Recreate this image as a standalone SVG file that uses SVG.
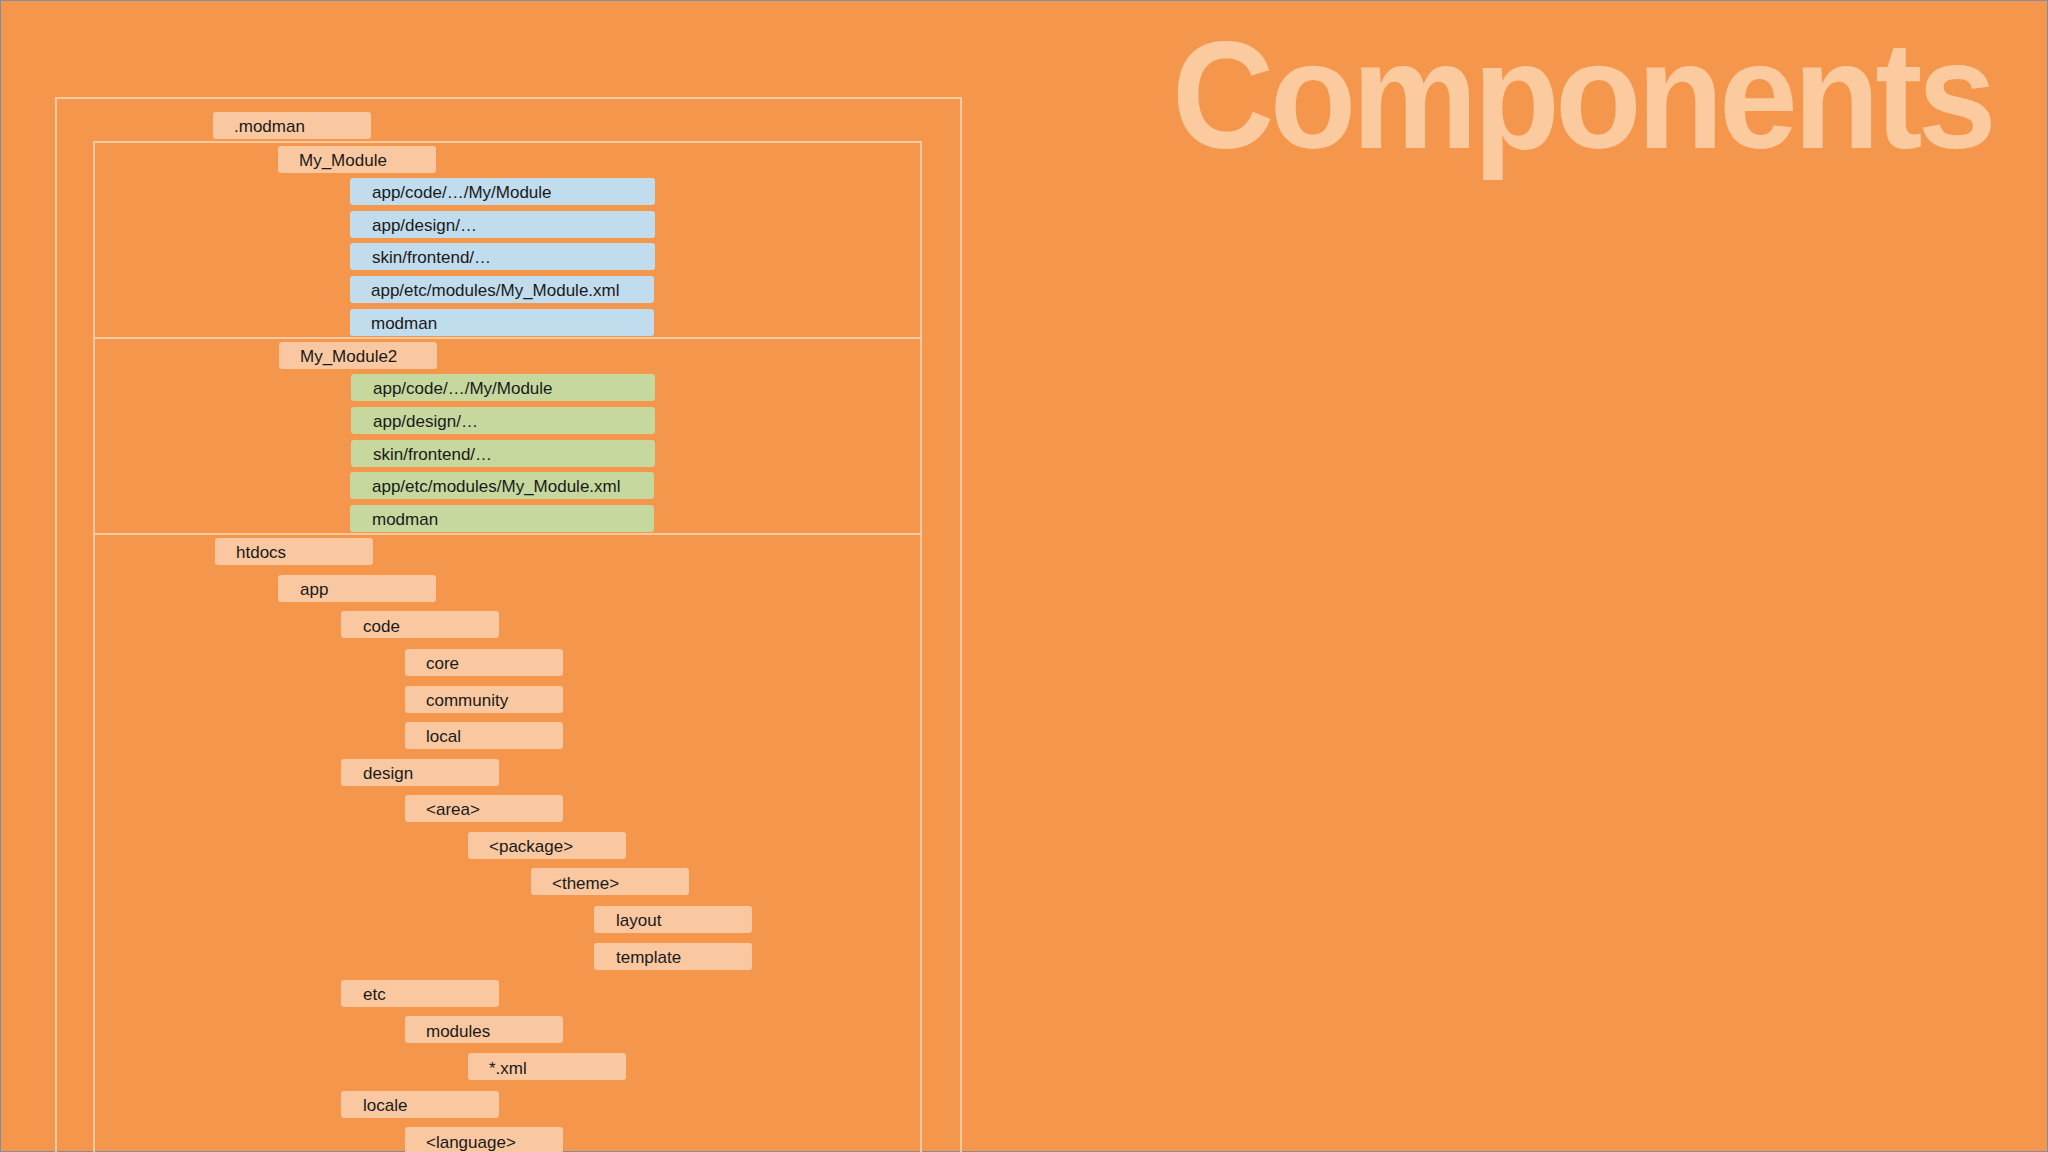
<svg xmlns="http://www.w3.org/2000/svg" width="2048" height="1152" viewBox="0 0 2048 1152">
<style>
.f{stroke:#fbc9a0;stroke-width:2;fill:none}
.p{fill:#f9c8a0}.b{fill:#c1dced}.g{fill:#c6d89e}
text{font-family:"Liberation Sans",Arial,sans-serif;font-size:17px;fill:#1a1a1a}
.t{font-size:152px;font-weight:bold;fill:#fbcb9f;letter-spacing:-5px}
</style>
<rect width="2048" height="1152" fill="#f5964d"/>
<rect x="0.5" y="0.5" width="2047" height="1151" fill="none" stroke="#7f8fa0" stroke-width="1"/>
<text class="t" x="1172" y="148" textLength="820" lengthAdjust="spacingAndGlyphs">Components</text>
<g id="frames">
<path class="f" d="M56,1152V98H961V1152"/>
<path class="f" d="M94,1152V142H921V1152M94,338H921M94,534H921"/>
</g>
<g id="connectors"></g>
<g id="modman"><rect class="p" x="213" y="112" width="158" height="27" rx="3"/><text x="234" y="132">.modman</text></g>
<g id="my_module"><rect class="p" x="278" y="146" width="158" height="27" rx="3"/><text x="299" y="166">My_Module</text>
<rect class="b" x="350" y="178" width="305" height="27" rx="3"/><text x="372" y="198">app/code/…/My/Module</text>
<rect class="b" x="350" y="211" width="305" height="27" rx="3"/><text x="372" y="231">app/design/…</text>
<rect class="b" x="350" y="243" width="305" height="27" rx="3"/><text x="372" y="263">skin/frontend/…</text>
<rect class="b" x="350" y="276" width="304" height="27" rx="3"/><text x="371" y="296">app/etc/modules/My_Module.xml</text>
<rect class="b" x="350" y="309" width="304" height="27" rx="3"/><text x="371" y="329">modman</text></g>
<g id="my_module2"><rect class="p" x="279" y="342" width="158" height="27" rx="3"/><text x="300" y="362">My_Module2</text>
<rect class="g" x="351" y="374" width="304" height="27" rx="3"/><text x="373" y="394">app/code/…/My/Module</text>
<rect class="g" x="351" y="407" width="304" height="27" rx="3"/><text x="373" y="427">app/design/…</text>
<rect class="g" x="351" y="440" width="304" height="27" rx="3"/><text x="373" y="460">skin/frontend/…</text>
<rect class="g" x="350" y="472" width="304" height="27" rx="3"/><text x="372" y="492">app/etc/modules/My_Module.xml</text>
<rect class="g" x="350" y="505" width="304" height="27" rx="3"/><text x="372" y="525">modman</text></g>
<g id="htdocs">
<rect class="p" x="215" y="538" width="158" height="27" rx="3"/><text x="236" y="558">htdocs</text>
<rect class="p" x="278" y="575" width="158" height="27" rx="3"/><text x="300" y="595">app</text>
<rect class="p" x="341" y="611" width="158" height="27" rx="3"/><text x="363" y="632">code</text>
<rect class="p" x="405" y="649" width="158" height="27" rx="3"/><text x="426" y="669">core</text>
<rect class="p" x="405" y="686" width="158" height="27" rx="3"/><text x="426" y="706">community</text>
<rect class="p" x="405" y="722" width="158" height="27" rx="3"/><text x="426" y="742">local</text>
<rect class="p" x="341" y="759" width="158" height="27" rx="3"/><text x="363" y="779">design</text>
<rect class="p" x="405" y="795" width="158" height="27" rx="3"/><text x="426" y="815">&lt;area&gt;</text>
<rect class="p" x="468" y="832" width="158" height="27" rx="3"/><text x="489" y="852">&lt;package&gt;</text>
<rect class="p" x="531" y="868" width="158" height="27" rx="3"/><text x="552" y="889">&lt;theme&gt;</text>
<rect class="p" x="594" y="906" width="158" height="27" rx="3"/><text x="616" y="926">layout</text>
<rect class="p" x="594" y="943" width="158" height="27" rx="3"/><text x="616" y="963">template</text>
<rect class="p" x="341" y="980" width="158" height="27" rx="3"/><text x="363" y="1000">etc</text>
<rect class="p" x="405" y="1016" width="158" height="27" rx="3"/><text x="426" y="1037">modules</text>
<rect class="p" x="468" y="1053" width="158" height="27" rx="3"/><text x="489" y="1074">*.xml</text>
<rect class="p" x="341" y="1091" width="158" height="27" rx="3"/><text x="363" y="1111">locale</text>
<rect class="p" x="405" y="1127" width="158" height="27" rx="3"/><text x="426" y="1148">&lt;language&gt;</text>
</g>
</svg>
